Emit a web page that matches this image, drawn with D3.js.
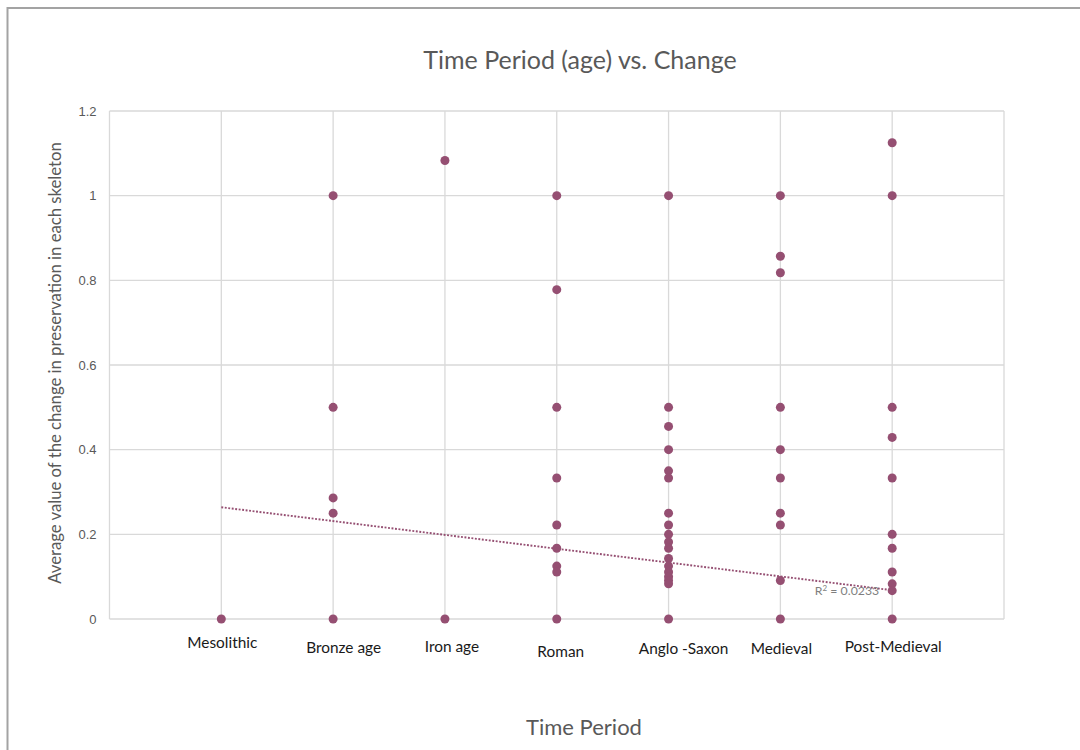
<!DOCTYPE html>
<html>
<head>
<meta charset="utf-8">
<script src="https://cdn.jsdelivr.net/npm/d3@7"></script>
<style>
  body { margin: 0; background: #fff; }
  svg { display: block; font-family: Lato, "Open Sans", sans-serif; }
</style>
</head>
<body>
<svg id="chart" width="1080" height="750"></svg>
<script>
// ============= Data =============
const categories = ['Mesolithic', 'Bronze age', 'Iron age', 'Roman', 'Anglo -Saxon', 'Medieval', 'Post-Medieval'];

const mesolithic = [0];
const bronzeAge = [1, 0.5, 0.286, 0.25, 0];
const ironAge = [1.083, 0];
const roman = [1, 0.778, 0.5, 0.333, 0.222, 0.167, 0.125, 0.111, 0];
const angloSaxon = [1, 0.5, 0.455, 0.4, 0.35, 0.333, 0.25, 0.222, 0.2, 0.182, 0.167, 0.143, 0.125, 0.111, 0.1, 0.091, 0.083, 0];
const medieval = [1, 0.857, 0.818, 0.5, 0.4, 0.333, 0.25, 0.222, 0.091, 0];
const postMedieval = [1.125, 1, 0.5, 0.429, 0.333, 0.2, 0.167, 0.111, 0.083, 0.067, 0];

const seriesByPeriod = [mesolithic, bronzeAge, ironAge, roman, angloSaxon, medieval, postMedieval];

const yTicks = [0, 0.2, 0.4, 0.6, 0.8, 1, 1.2];
const xTicks = [0, 1, 2, 3, 4, 5, 6, 7, 8];

// linear trendline ends
const trendX = [1, 7];
const trendY = [0.264, 0.068];
const rSquared = '0.0233';

// ============= Layout =============
const pointColor = '#954F72',
      gridColor = '#d9d9d9',
      textGrey = '#595959';

const plot = {left: 109.5, right: 1004, top: 111, bottom: 619};

// the period labels are loose text boxes, each nudged a little
const labelNudge = [[1, 29], [10.5, 34], [7, 33], [4, 38], [15, 34.5], [1, 34.5], [1, 33]];

const svg = d3.select('#chart');

const x = d3.scaleLinear().domain([0, 8]).range([plot.left, plot.right]);
const y = d3.scaleLinear().domain([0, 1.2]).range([plot.bottom, plot.top]);

// chart frame
svg.append('rect')
  .attr('x', 7.5)
  .attr('y', 8)
  .attr('width', 1200)
  .attr('height', 1000)
  .attr('fill', 'none')
  .attr('stroke', '#a3a3a3')
  .attr('stroke-width', 2);

// ------------ Grid ------------
const grid = svg.append('g').attr('class', 'grid');

grid.selectAll('.hgrid')
  .data(yTicks)
  .enter()
  .append('line')
    .attr('class', 'hgrid')
    .attr('x1', plot.left)
    .attr('x2', plot.right)
    .attr('y1', d => y(d))
    .attr('y2', d => y(d));

grid.selectAll('.vgrid')
  .data(xTicks)
  .enter()
  .append('line')
    .attr('class', 'vgrid')
    .attr('x1', d => x(d))
    .attr('x2', d => x(d))
    .attr('y1', plot.top)
    .attr('y2', plot.bottom);

grid.selectAll('line')
  .attr('stroke', gridColor)
  .attr('stroke-width', 1.3);

// ------------ Y axis ------------
const yAxis = svg.append('g')
  .attr('transform', 'translate(' + plot.left + ',0)')
  .call(d3.axisLeft(y).tickValues(yTicks).tickSize(0).tickPadding(13).tickFormat(d3.format('~g')));

yAxis.select('.domain').remove();
yAxis.selectAll('text')
  .attr('fill', textGrey)
  .style('font-size', '13px');

// ------------ Trendline ------------
svg.append('line')
  .attr('x1', x(trendX[0]))
  .attr('y1', y(trendY[0]))
  .attr('x2', x(trendX[1]))
  .attr('y2', y(trendY[1]))
  .attr('stroke', pointColor)
  .attr('stroke-width', 1.9)
  .attr('stroke-dasharray', '1.9 1.6');

// ------------ Points ------------
const points = seriesByPeriod.flatMap((vals, i) => vals.map(v => ({period: i + 1, value: v})));

svg.append('g')
  .selectAll('circle')
  .data(points)
  .enter()
  .append('circle')
    .attr('cx', d => x(d.period))
    .attr('cy', d => y(d.value))
    .attr('r', 4.5)
    .attr('fill', pointColor);

svg.append('text')
  .attr('x', x(trendX[1]) - 13)
  .attr('y', y(trendY[1]) + 5)
  .attr('text-anchor', 'end')
  .attr('fill', '#7f7f7f')
  .style('font-size', '12.3px')
  .html('R<tspan dy="-4" font-size="8px">2</tspan><tspan dy="4"> = ' + rSquared + '</tspan>');

// ------------ Period labels ------------
svg.append('g')
  .selectAll('text')
  .data(categories)
  .enter()
  .append('text')
    .attr('x', (d, i) => x(i + 1) + labelNudge[i][0])
    .attr('y', (d, i) => plot.bottom + labelNudge[i][1])
    .attr('text-anchor', 'middle')
    .attr('fill', '#1a1a1a')
    .style('font-size', '15.4px')
    .text(d => d);

// ------------ Titles ------------
svg.append('text')
  .attr('x', 580)
  .attr('y', 69)
  .attr('text-anchor', 'middle')
  .attr('fill', textGrey)
  .style('font-size', '25px')
  .text('Time Period (age) vs. Change');

svg.append('text')
  .attr('x', 584)
  .attr('y', 735)
  .attr('text-anchor', 'middle')
  .attr('fill', textGrey)
  .style('font-size', '22px')
  .text('Time Period');

svg.append('text')
  .attr('transform', 'translate(61,363) rotate(-90)')
  .attr('text-anchor', 'middle')
  .attr('fill', textGrey)
  .style('font-size', '16.7px')
  .text('Average value of the change in preservation in each skeleton');
</script>
</body>
</html>
